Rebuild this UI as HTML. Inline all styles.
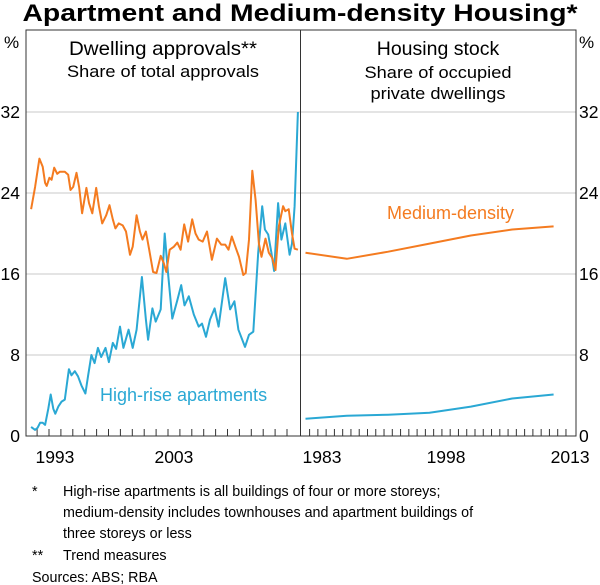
<!DOCTYPE html>
<html><head><meta charset="utf-8"><style>
html,body{margin:0;padding:0;background:#fff;}
svg{display:block;font-family:"Liberation Sans",Arial,sans-serif;}
</style></head><body>
<svg id="chart" width="600" height="585" viewBox="0 0 600 585" xmlns="http://www.w3.org/2000/svg">
<text x="300" y="21" text-anchor="middle" font-size="24" font-weight="bold" textLength="555" lengthAdjust="spacingAndGlyphs">Apartment and Medium-density Housing*</text>
<g id="grid"></g>
<rect x="26" y="30" width="550" height="406" fill="none" stroke="#333" stroke-width="1"/>
<line x1="300.5" y1="30" x2="300.5" y2="436" stroke="#333" stroke-width="1"/>
<text x="163" y="55" text-anchor="middle" font-size="19.5" textLength="188" lengthAdjust="spacingAndGlyphs">Dwelling approvals**</text>
<text x="163" y="77" text-anchor="middle" font-size="17" textLength="192" lengthAdjust="spacingAndGlyphs">Share of total approvals</text>
<text x="438" y="55" text-anchor="middle" font-size="19.5">Housing stock</text>
<text x="438" y="78" text-anchor="middle" font-size="17" textLength="147" lengthAdjust="spacingAndGlyphs">Share of occupied</text>
<text x="438" y="99" text-anchor="middle" font-size="17" textLength="135" lengthAdjust="spacingAndGlyphs">private dwellings</text>
<text x="4" y="48" font-size="17">%</text>
<text x="579" y="48" font-size="17">%</text>
<g id="axes"></g>
<g id="series"></g>
<text x="100" y="401" font-size="18" fill="#2aa8d4">High-rise apartments</text>
<text x="387" y="219" font-size="18" fill="#f47b20">Medium-density</text>
<g font-size="14.3" fill="#000">
<text x="32" y="496">*</text>
<text x="63" y="496">High-rise apartments is all buildings of four or more storeys;</text>
<text x="63" y="517">medium-density includes townhouses and apartment buildings of</text>
<text x="63" y="538">three storeys or less</text>
<text x="32" y="560">**</text>
<text x="63" y="560">Trend measures</text>
<text x="32" y="582">Sources:  ABS; RBA</text>
</g>
</svg>
<script>
const yTicks = [0, 8, 16, 32, 24];
const leftYearLabels = [1993, 2003];
const rightYearLabels = [1983, 1998, 2013];
const approvalsMedYears = [1991.50,1991.83,1992.19,1992.47,1992.67,1992.81,1993.03,1993.22,1993.44,1993.69,1993.92,1994.33,1994.61,1994.81,1995.03,1995.31,1995.53,1995.78,1996.14,1996.36,1996.64,1996.97,1997.19,1997.47,1997.81,1998.08,1998.36,1998.58,1998.86,1999.19,1999.47,1999.81,2000.03,2000.36,2000.64,2000.86,2001.14,2001.42,2001.75,2002.03,2002.39,2002.64,2002.86,2003.14,2003.5,2003.78,2004.06,2004.36,2004.69,2005.03,2005.31,2005.58,2005.92,2006.28,2006.69,2007.11,2007.47,2007.81,2008.08,2008.36,2008.69,2008.97,2009.33,2009.53,2009.81,2010.08,2010.36,2010.64,2010.86,2011.19,2011.47,2011.75,2012.03,2012.31,2012.67,2012.86,2013.14,2013.42,2013.64,2013.92];
const approvalsMed = [22.4,24.6,27.4,26.6,25.0,24.7,25.5,25.3,26.5,25.9,26.1,26.1,25.8,24.3,24.6,26.0,24.6,22.0,24.5,23.0,22.0,24.5,22.7,21.0,21.8,22.8,21.4,20.5,21.0,20.8,20.2,17.9,18.7,21.8,20.2,19.4,20.2,18.4,16.2,16.1,17.8,17.1,16.2,18.4,18.7,19.1,18.4,20.9,19.2,21.4,20.0,19.4,19.2,20.2,17.4,19.5,18.9,18.9,18.4,19.7,18.6,17.7,15.9,16.1,19.4,26.2,23.3,19.0,17.7,19.5,18.1,17.6,16.4,20.7,22.7,22.2,22.4,20.0,18.5,18.4];
const approvalsHighYears = [1991.50,1991.83,1992.03,1992.25,1992.47,1992.67,1992.94,1993.14,1993.36,1993.53,1993.78,1994.06,1994.33,1994.67,1994.89,1995.17,1995.44,1995.72,1996.06,1996.28,1996.56,1996.83,1997.11,1997.39,1997.75,1998.03,1998.36,1998.64,1998.97,1999.25,1999.69,2000.03,2000.36,2000.81,2001.14,2001.33,2001.69,2001.97,2002.39,2002.72,2003.0,2003.36,2003.78,2004.11,2004.39,2004.75,2005.17,2005.58,2005.86,2006.19,2006.53,2006.92,2007.25,2007.81,2008.22,2008.58,2008.92,2009.47,2009.81,2010.17,2010.58,2010.92,2011.14,2011.42,2011.69,2011.92,2012.25,2012.53,2012.86,2013.22,2013.42,2013.64,2013.92];
const approvalsHigh = [0.9,0.6,0.8,1.3,1.3,1.1,2.7,4.1,2.7,2.2,2.9,3.4,3.6,6.6,6.0,6.4,5.9,5.0,4.2,5.9,8.0,7.2,8.7,7.8,8.7,7.3,9.2,8.6,10.8,8.7,10.5,8.7,10.5,15.7,11.5,9.5,12.6,11.3,12.5,20.0,16.1,11.6,13.4,14.9,12.9,13.8,12.0,10.8,11.1,9.8,11.5,12.6,10.8,15.6,12.5,13.3,10.5,8.8,10.0,10.3,18.1,22.7,20.4,19.9,18.1,16.3,23.0,19.4,21.0,17.9,19.0,22.7,32.0];
const censusYears = [1981,1986,1991,1996,2001,2006,2011];
const stockMed = [18.1,17.5,18.2,19.0,19.8,20.4,20.7];
const stockHigh = [1.7,2.0,2.1,2.3,2.9,3.7,4.1];

const NS='http://www.w3.org/2000/svg';
const y = v => 436 - v*10.125;
const xL = yr => 49 + (yr-1993)*11.9;
const xR = yr => 322 + (yr-1983)*8.27;
const grid = document.getElementById('grid');
const axes = document.getElementById('axes');
const series = document.getElementById('series');
function mk(tag, attrs, parent){const e=document.createElementNS(NS,tag);for(const k in attrs)e.setAttribute(k,attrs[k]);parent.appendChild(e);return e;}

yTicks.forEach(v=>{
  if(v>0){
    const g=mk('line',{x1:26,x2:576,y1:y(v),y2:y(v),stroke:'#c8c8c8','stroke-width':1},grid);
    
    
  }
  const tl=mk('text',{x:20,y:y(v)+6,'text-anchor':'end','font-size':17.5},axes);
  tl.textContent=v;
  
  
  const tr=mk('text',{x:579,y:y(v)+6,'font-size':17.5},axes);
  tr.textContent=v;
  
  
});
for(let yr=1992; yr<=2013; yr++){
  const t=mk('line',{x1:xL(yr),x2:xL(yr),y1:436,y2:429,stroke:'#333','stroke-width':1},axes);
  
  
}
for(let yr=1981.5; yr<=2012.5; yr++){
  const t=mk('line',{x1:xR(yr),x2:xR(yr),y1:436,y2:429,stroke:'#333','stroke-width':1},axes);
  
  
}
leftYearLabels.forEach(yr=>{
  const t=mk('text',{x:xL(yr+0.5),y:463,'text-anchor':'middle','font-size':17.5},axes);
  t.textContent=yr;
  
  
});
rightYearLabels.forEach(yr=>{
  const t=mk('text',{x:xR(yr),y:463,'text-anchor':'middle','font-size':17.5},axes);
  t.textContent=yr;
  
  
});
function line(xs, vs, xf, color, name){
  const d = xs.map((yr,i)=>(i?'L':'M')+xf(yr).toFixed(1)+','+y(vs[i]).toFixed(1)).join(' ');
  const p=mk('path',{d:d,fill:'none',stroke:color,'stroke-width':2,'stroke-linejoin':'round'},series);
  
  
}
line(approvalsHighYears, approvalsHigh, xL, '#2aa8d4', 'approvals-high-rise-line');
line(approvalsMedYears, approvalsMed, xL, '#f47b20', 'approvals-medium-density-line');
line(censusYears, stockHigh, xR, '#2aa8d4', 'stock-high-rise-line');
line(censusYears, stockMed, xR, '#f47b20', 'stock-medium-density-line');
</script>
</body></html>
